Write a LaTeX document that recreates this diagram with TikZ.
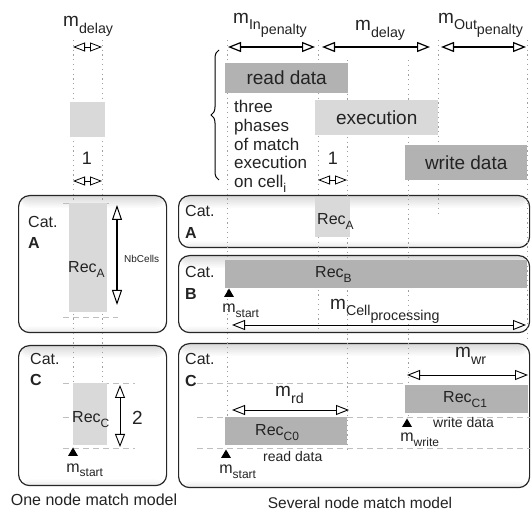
\documentclass[tikz,border=0pt]{standalone}
\usepackage{fontspec}
\setmainfont{Liberation Sans}
\usetikzlibrary{arrows.meta,decorations.pathreplacing}
\definecolor{lightrec}{RGB}{217,217,217}
\definecolor{darkrec}{RGB}{178,178,178}
\definecolor{ink}{RGB}{35,35,35}
% lowered, reduced index text
\newcommand\lo[2]{\raisebox{#1}{\scalebox{0.75}{#2}}}
\newcommand\fs[1]{\fontsize{#1}{#1}\selectfont}

\tikzset{
  guide/.style={draw=gray!75, line width=0.7pt, dash pattern=on 1.2pt off 3.6pt},
  hguide/.style={draw=gray!50, line width=0.8pt, dash pattern=on 6pt off 4pt},
  catbox/.style={draw=black!85, line width=1.2pt, rounded corners=11pt, fill=white,
    inner sep=0pt, anchor=north west,
    path picture={
      % soft gray rim inside the frame, darkest at the top edge
      \foreach \h in {2,4,...,12}
        \fill[black, opacity=0.025] (path picture bounding box.north west)
          rectangle ([yshift=-\h*1pt]path picture bounding box.north east);
      \foreach \h in {2,4,6}
        \fill[black, opacity=0.025] (path picture bounding box.south west)
          rectangle ([yshift=\h*1pt]path picture bounding box.south east);}},
  lightbar/.style={fill=lightrec, inner sep=0pt, anchor=north west, text=ink},
  darkbar/.style={fill=darkrec, inner sep=0pt, anchor=north west, text=ink},
  lbl/.style={inner sep=0pt, anchor=base west, text=ink},
  span/.style={draw=black, line width=1.2pt, {Triangle[length=13pt,width=10pt,fill=white]}-{Triangle[length=13pt,width=10pt,fill=white]}},
  thinspan/.style={draw=black, line width=0.9pt, {Triangle[length=13pt,width=10pt,fill=white]}-{Triangle[length=13pt,width=10pt,fill=white]}},
  unitspan/.style={draw=black, line width=0.8pt, {Triangle[length=12pt,width=9pt,fill=white]}-{Triangle[length=12pt,width=9pt,fill=white]}},
  catfont/.style={font=\fs{16}},
}

\begin{document}
\begin{tikzpicture}[x=1pt,y=-1pt]
\useasboundingbox (0,0) rectangle (531,513);

% category frames
\node[catbox, minimum width=148pt, minimum height=137pt] (frLA) at (18,195) {};
\node[catbox, minimum width=148pt, minimum height=140pt] (frLC) at (18,345) {};
\node[catbox, minimum width=351pt, minimum height=52pt] (frRA) at (178,195) {};
\node[catbox, minimum width=351pt, minimum height=77pt] (frRB) at (178,255) {};
\node[catbox, minimum width=351pt, minimum height=144pt] (frRC) at (178,343) {};

% vertical time guides
\draw[guide] (73,40) -- (73,455);
\draw[guide] (102,40) -- (102,383);
\draw[guide] (227,40) -- (227,452);
\draw[guide] (318,40) -- (318,330);
\draw[guide] (347,60) -- (347,450);
\draw[guide] (408,60) -- (408,420);
\draw[guide] (438,40) -- (438,215);
\draw[guide] (527,40) -- (527,340);

% horizontal guides
\draw[hguide] (63,203) -- (110,203);
\draw[hguide] (63,317) -- (118,317);
\draw[hguide] (63,383) -- (135,383);
\draw[hguide] (63,417) -- (73,417);
\draw[hguide] (63,448) -- (135,448);
\draw[hguide] (197,383) -- (405,383);
\draw[hguide] (197,417) -- (530,417);
\draw[hguide] (197,448) -- (530,448);

% activity bars
\node[lightbar, minimum width=35pt, minimum height=35pt] (cellL) at (70,102) {};
\node[lightbar, minimum width=38pt, minimum height=109pt] (barLA) at (69,203) {};
\node[lightbar, minimum width=34pt, minimum height=62pt] (barLC) at (73,383) {};
\node[darkbar, minimum width=123pt, minimum height=30pt, font=\fs{19}] (rd) at (225,63) {read data};
\node[lightbar, minimum width=123pt, minimum height=35pt, font=\fs{19}] (ex) at (315,100) {execution};
\node[darkbar, minimum width=122pt, minimum height=35pt, font=\fs{19}] (wd) at (405,145) {write data};
\node[lightbar, minimum width=35pt, minimum height=40pt] (barRA) at (315,197) {};
\node[darkbar, minimum width=302pt, minimum height=28pt] (barRB) at (225,260) {};
\node[darkbar, minimum width=122pt, minimum height=28pt] (barC0) at (225,417) {};
\node[darkbar, minimum width=123pt, minimum height=28pt] (barC1) at (405,385) {};

% category names
\node[lbl, catfont] (catLA) at (28,228) {Cat.};
\node[lbl, catfont] (letLA) at (28,249) {\bfseries A};
\node[lbl, catfont] (catLC) at (30,365) {Cat.};
\node[lbl, catfont] (letLC) at (30,386) {\bfseries C};
\node[lbl, catfont] (catRA) at (185,217) {Cat.};
\node[lbl, catfont] (letRA) at (185,239) {\bfseries A};
\node[lbl, catfont] (catRB) at (185,278) {Cat.};
\node[lbl, catfont] (letRB) at (185,300) {\bfseries B};
\node[lbl, catfont] (catRC) at (185,365) {Cat.};
\node[lbl, catfont] (letRC) at (185,387) {\bfseries C};

% record labels
\node[lbl, font=\fs{16}] (recLA) at (68,273) {Rec\lo{-0.5ex}{A}};
\node[lbl, font=\fs{16}] (recLC) at (72,423) {Rec\lo{-0.5ex}{C}};
\node[lbl, font=\fs{16}] (recRA) at (317,225) {Rec\lo{-0.5ex}{A}};
\node[lbl, font=\fs{16}] (recRB) at (315,278) {Rec\lo{-0.5ex}{B}};
\node[lbl, font=\fs{16}] (recC0) at (255,436) {Rec\lo{-0.5ex}{C0}};
\node[lbl, font=\fs{16}] (recC1) at (443,403) {Rec\lo{-0.5ex}{C1}};

% metric labels
\node[lbl, font=\fs{19}] (mdelL) at (63,27) {m\lo{-0.6ex}{delay}};
\node[lbl, font=\fs{19}] (minp) at (233,24) {m\lo{-0.5ex}{In}\lo{-1.0ex}{penalty}};
\node[lbl, font=\fs{19}] (mdelR) at (355,31) {m\lo{-0.6ex}{delay}};
\node[lbl, font=\fs{19}] (moutp) at (438,24) {m\lo{-0.5ex}{Out}\lo{-1.0ex}{penalty}};
\node[lbl, font=\fs{19}] (mcell) at (330,310) {m\lo{-0.5ex}{Cell}\lo{-1.0ex}{processing}};
\node[lbl, font=\fs{19}] (mrd) at (275,397) {m\lo{-0.6ex}{rd}};
\node[lbl, font=\fs{19}] (mwr) at (455,358) {m\lo{-0.6ex}{wr}};

\node[lbl, anchor=base, font=\fs{18}] (oneL) at (87,165) {1};
\node[lbl, anchor=base, font=\fs{18}] (oneR) at (333,165) {1};
\node[lbl, font=\fs{19}] (two) at (132,425) {2};
\node[lbl, font=\fs{10}] (nbc) at (124,263) {NbCells};

\node[lbl, anchor=north west, align=left, font=\fontsize{17}{18.8}\selectfont] (phases) at (234,100)
  {three\\phases\\of match\\execution\\on cell\lo{-0.5ex}{i}};

\node[lbl, font=\fs{14}] (wdsmall) at (433,428) {write data};
\node[lbl, font=\fs{14}] (rdsmall) at (263,462) {read data};

% start / write markers
\coordinate (msLC) at (73,452);
\coordinate (msRB) at (229,293);
\coordinate (msRC) at (226,454);
\coordinate (mwRC) at (407,423);
\foreach \p in {msLC,msRB,msRC,mwRC}
  \fill[black] (\p) ++(-5,4) -- ++(5,-8.5) -- ++(5,8.5) -- cycle;
\node[lbl, font=\fs{16}] (tmsLC) at ([xshift=-6.8pt,yshift=-20pt]msLC) {m\lo{-0.5ex}{start}};
\node[lbl, font=\fs{16}] (tmsRB) at ([xshift=-6.8pt,yshift=-20pt]msRB) {m\lo{-0.5ex}{start}};
\node[lbl, font=\fs{16}] (tmsRC) at ([xshift=-6.8pt,yshift=-20pt]msRC) {m\lo{-0.5ex}{start}};
\node[lbl, font=\fs{16}] (tmwRC) at ([xshift=-6.8pt,yshift=-19pt]mwRC) {m\lo{-0.5ex}{write}};

% dimension arrows
\coordinate (a1) at (73,47);   \coordinate (a2) at (102,47);
\coordinate (b1) at (73,181);  \coordinate (b2) at (102,181);
\coordinate (c1) at (318,180); \coordinate (c2) at (347,180);
\draw[unitspan] (a1) -- (a2);
\draw[unitspan] (b1) -- (b2);
\draw[unitspan] (c1) -- (c2);

\coordinate (p1) at (228,47); \coordinate (p2) at (315,47);
\coordinate (q1) at (322,47); \coordinate (q2) at (430,47);
\coordinate (r1) at (441,47); \coordinate (r2) at (526,47);
\draw[span] (p1) -- (p2);
\draw[span] (q1) -- (q2);
\draw[span] (r1) -- (r2);

\coordinate (n1) at (117,205); \coordinate (n2) at (117,305);
\draw[draw=black, line width=2pt, {Triangle[length=15pt,width=10pt,fill=white,line width=1pt]}-{Triangle[length=15pt,width=10pt,fill=white,line width=1pt]}] (n1) -- (n2);
\coordinate (t1) at (120,385); \coordinate (t2) at (120,447);
\draw[thinspan] (t1) -- (t2);

\coordinate (cp1) at (232,325); \coordinate (cp2) at (526,325);
\draw[thinspan] (cp1) -- (cp2);
\coordinate (rd1) at (232,410); \coordinate (rd2) at (349,410);
\draw[thinspan] (rd1) -- (rd2);
\coordinate (wr1) at (407,375); \coordinate (wr2) at (528,375);
\draw[thinspan] (wr1) -- (wr2);

% grouping brace
\coordinate (brB) at (219,180); \coordinate (brT) at (219,50);
\draw[decorate, decoration={brace, amplitude=8pt}, line width=1pt] (brB) -- (brT);

% captions
\node[lbl, anchor=base, font=\fs{16}] (capL) at (94,506) {One node match model};
\node[lbl, anchor=base, font=\fs{15.5}] (capR) at (360,508) {Several node match model};
\end{tikzpicture}
\end{document}
